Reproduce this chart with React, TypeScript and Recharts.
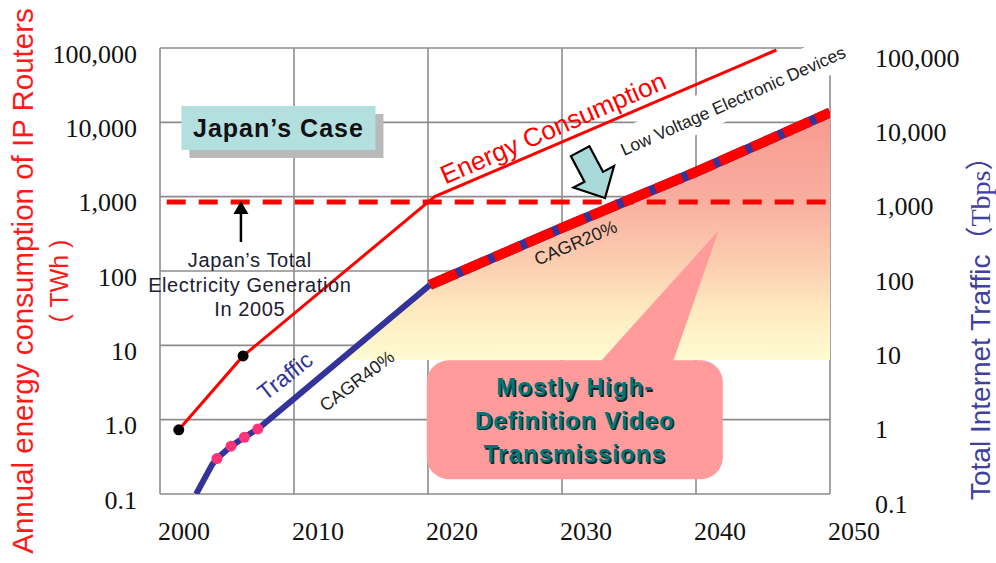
import React from "react";
import {
  Area,
  CartesianGrid,
  ComposedChart,
  Line,
  ReferenceDot,
  XAxis,
  YAxis,
} from "recharts";

const SANS = "Liberation Sans, Arial, sans-serif";
const SERIF = "Liberation Serif, Times New Roman, Noto Sans CJK JP, serif";

// axes
const xTicks = [2000, 2010, 2020, 2030, 2040, 2050];
const yTicks = [0.1, 1, 10, 100, 1000, 10000, 100000];
const leftTickLabels = ["0.1", "1.0", "10", "100", "1,000", "10,000", "100,000"];
const rightTickLabels = ["0.1", "1", "10", "100", "1,000", "10,000", "100,000"];

// energy consumption of IP routers (TWh)
const energyYears = [2001.4, 2006.2, 2020.5, 2046.0];
const energyValues = [0.73, 7.2, 1000, 94000];

// total internet traffic, history + CAGR40% (Tbps)
const trafficYears = [2002.7, 2003.9, 2004.25, 2005.3, 2006.3, 2007.3, 2020.15];
const trafficValues = [0.1, 0.25, 0.3, 0.44, 0.58, 0.75, 65];
const markedTraffic = [2, 3, 4, 5];

// CAGR20% forecast (Tbps)
const forecastYears = [2020.15, 2030, 2040, 2050];
const forecastValues = [65, 380, 2150, 13500];

// shaded region under traffic
const shadeYears = [2013.5, 2020.15, 2030, 2040, 2050];
const shadeValues = [6.35, 65, 380, 2150, 13500];
const shadeBase = 6.35;

// Japan's total electricity generation in 2005 (TWh)
const japanYears = [2000.5, 2049.8];
const japanValues = [850, 850];

const calloutLines = ["Mostly High-", "Definition Video", "Transmissions"];

const toRows = (xs: number[], vs: number[]) => xs.map((year, i) => ({ year, v: vs[i] }));
const energyData = toRows(energyYears, energyValues);
const trafficData = toRows(trafficYears, trafficValues);
const forecastData = toRows(forecastYears, forecastValues);
const shadeData = toRows(shadeYears, shadeValues);
const japanData = toRows(japanYears, japanValues);

function XTick(props: any) {
  const { x, y, payload } = props;
  return (
    <text x={x + 24} y={y + 37} textAnchor="middle" dominantBaseline="central" fontFamily={SERIF} fontSize={26} fill="#111">
      {payload.value}
    </text>
  );
}

function LeftTick(props: any) {
  const { x, y, payload } = props;
  const i = yTicks.indexOf(payload.value);
  return (
    <text x={x - 23} y={y + 6} textAnchor="end" dominantBaseline="central" fontFamily={SERIF} fontSize={26} fill="#111">
      {leftTickLabels[i]}
    </text>
  );
}

function RightTick(props: any) {
  const { x, y, payload } = props;
  const i = yTicks.indexOf(payload.value);
  return (
    <text x={x + 45} y={y + 10} textAnchor="start" dominantBaseline="central" fontFamily={SERIF} fontSize={26} fill="#111">
      {rightTickLabels[i]}
    </text>
  );
}

// place an svg snippet at a data coordinate
function at(year: number, value: number, draw: (cx: number, cy: number) => React.ReactNode) {
  return (
    <ReferenceDot
      key={`${year}-${value}`}
      x={year}
      y={value}
      yAxisId="left"
      r={0}
      ifOverflow="visible"
      shape={(p: any) => <g>{draw(p.cx, p.cy)}</g>}
    />
  );
}

function rotated(cx: number, cy: number, angle: number, text: string, size: number, fill: string) {
  return (
    <text
      x={cx}
      y={cy}
      transform={`rotate(${angle} ${cx} ${cy})`}
      textAnchor="middle"
      dominantBaseline="central"
      fontFamily={SANS}
      fontSize={size}
      fill={fill}
    >
      {text}
    </text>
  );
}

export default function App() {
  return (
    <div style={{ position: "absolute", left: 0, top: 0, width: 996, height: 563, background: "#fff" }}>
      <ComposedChart width={996} height={563} margin={{ top: 48, right: 0, bottom: 0, left: 0 }}>
        <defs>
          <linearGradient id="shade" x1="0" y1="0" x2="0" y2="1">
            <stop offset="0%" stopColor="#f7998f" />
            <stop offset="35%" stopColor="#f9ae9f" />
            <stop offset="60%" stopColor="#fccdb0" />
            <stop offset="80%" stopColor="#feeac0" />
            <stop offset="100%" stopColor="#fffbd2" />
          </linearGradient>
        </defs>
        <CartesianGrid yAxisId="left" stroke="#8c8c8c" strokeWidth={1.6} />
        <XAxis
          type="number"
          dataKey="year"
          domain={[2000, 2050]}
          ticks={xTicks}
          allowDataOverflow
          height={69}
          axisLine={false}
          tickLine={false}
          tickSize={0}
          tickMargin={0}
          tick={XTick}
        />
        <YAxis
          yAxisId="left"
          scale="log"
          domain={[0.1, 100000]}
          ticks={yTicks}
          allowDataOverflow
          width={160}
          axisLine={false}
          tickLine={false}
          tickSize={0}
          tickMargin={0}
          tick={LeftTick}
          label={(p: any) => {
            const vb = p.viewBox;
            const cy = vb.y + vb.height / 2 + 10;
            return (
              <g>
                <text x={33} y={cy} transform={`rotate(-90 33 ${cy})`} textAnchor="middle" fontFamily={SANS} fontSize={29.5} fill="#ff1a1a">
                  Annual energy consumption of IP Routers
                </text>
                <text x={68} y={cy} transform={`rotate(-90 68 ${cy})`} textAnchor="middle" fontFamily={SANS} fontSize={25} fill="#ff1a1a">
                  ( TWh )
                </text>
              </g>
            );
          }}
        />
        <YAxis
          yAxisId="right"
          orientation="right"
          scale="log"
          domain={[0.1, 100000]}
          ticks={yTicks}
          allowDataOverflow
          width={166}
          axisLine={false}
          tickLine={false}
          tickSize={0}
          tickMargin={0}
          tick={RightTick}
          label={(p: any) => {
            const vb = p.viewBox;
            const x = vb.x + 160;
            const y = vb.y + vb.height + 6;
            return (
              <text x={x} y={y} transform={`rotate(-90 ${x} ${y})`} textAnchor="start" fontFamily={SANS} fontSize={28} fill="#40409f">
                Total Internet Traffic
                <tspan fontFamily={SERIF}>（Tbps）</tspan>
              </text>
            );
          }}
        />

        <Area
          data={shadeData}
          dataKey="v"
          yAxisId="left"
          type="linear"
          baseValue={shadeBase}
          stroke="none"
          fill="url(#shade)"
          fillOpacity={1}
          isAnimationActive={false}
        />

        {at(2019.91, 6.3, (cx, cy) => (
          <g>
            <polygon points={`${cx + 173},${cy + 2} ${cx + 292},${cy - 130} ${cx + 246},${cy + 2}`} fill="#ff9b9b" />
            <rect x={cx} y={cy} width={296} height={119} rx={22} fill="#ff9b9b" />
            {calloutLines.map((t, i) => (
              <g key={t} textAnchor="middle" fontFamily={SANS} fontWeight="bold" fontSize={24} letterSpacing={1.1}>
                <text x={cx + 149.5} y={cy + 36.5 + i * 33.5} fill="#0b2b2b">
                  {t}
                </text>
                <text x={cx + 148} y={cy + 35 + i * 33.5} fill="#007777">
                  {t}
                </text>
              </g>
            ))}
          </g>
        ))}

        <Line
          data={japanData}
          dataKey="v"
          yAxisId="left"
          type="linear"
          stroke="#ff0000"
          strokeWidth={5}
          strokeDasharray="19 13"
          dot={false}
          isAnimationActive={false}
        />
        <Line
          data={energyData}
          dataKey="v"
          yAxisId="left"
          type="linear"
          stroke="#ff0000"
          strokeWidth={3}
          dot={(p: any) =>
            p.index < 2 ? <circle key={p.index} cx={p.cx} cy={p.cy} r={5.5} fill="#000" /> : <g key={p.index} />
          }
          isAnimationActive={false}
        />
        <Line
          data={trafficData}
          dataKey="v"
          yAxisId="left"
          type="linear"
          stroke="#333399"
          strokeWidth={6}
          dot={(p: any) =>
            markedTraffic.includes(p.index) ? (
              <circle key={p.index} cx={p.cx} cy={p.cy} r={5.5} fill="#ff3377" />
            ) : (
              <g key={p.index} />
            )
          }
          isAnimationActive={false}
        />
        <Line
          data={forecastData}
          dataKey="v"
          yAxisId="left"
          type="linear"
          stroke="#333399"
          strokeWidth={10}
          dot={false}
          isAnimationActive={false}
        />
        <Line
          data={forecastData}
          dataKey="v"
          yAxisId="left"
          type="linear"
          stroke="#ff0000"
          strokeWidth={10}
          strokeDasharray="29 6"
          dot={false}
          isAnimationActive={false}
        />

        {at(2008.84, 8400, (cx, cy) => (
          <g>
            <rect x={cx - 89} y={cy - 14} width={194} height={44} fill="#b9b9b9" />
            <rect x={cx - 97} y={cy - 22} width={194} height={44} fill="#b4dfdf" />
            <text x={cx} y={cy} textAnchor="middle" dominantBaseline="central" fontFamily={SANS} fontWeight="bold" fontSize={25} letterSpacing={1} fill="#111">
              Japan’s Case
            </text>
          </g>
        ))}

        {at(2006.04, 875, (cx, cy) => (
          <g>
            <line x1={cx} y1={cy + 41} x2={cx} y2={cy + 11} stroke="#000" strokeWidth={2.5} />
            <polygon points={`${cx},${cy} ${cx - 7.5},${cy + 13} ${cx + 7.5},${cy + 13}`} fill="#000" />
          </g>
        ))}

        {at(2006.7, 113, (cx, cy) => (
          <g fontFamily={SANS} fontSize={20} letterSpacing={0.6} fill="#202030" textAnchor="middle">
            <text x={cx} y={cy}>Japan’s Total</text>
            <text x={cx} y={cy + 24.5}>Electricity Generation</text>
            <text x={cx} y={cy + 49}>In 2005</text>
          </g>
        ))}

        {at(2029.33, 8400, (cx, cy) => rotated(cx, cy, -23.5, "Energy Consumption", 26, "#ff0000"))}
        {at(2042.76, 19400, (cx, cy) => (
          <g>
            <rect x={cx - 135} y={cy - 20} width={262} height={36} fill="#fff" transform={`rotate(-24 ${cx} ${cy})`} />
            {rotated(cx, cy, -24, "Low Voltage Electronic Devices", 17.5, "#222")}
          </g>
        ))}
        {at(2009.33, 3.87, (cx, cy) => rotated(cx, cy, -38, "Traffic", 23, "#333399"))}
        {at(2014.7, 3.31, (cx, cy) => rotated(cx, cy, -37, "CAGR40%", 18, "#222"))}
        {at(2031.02, 238, (cx, cy) => rotated(cx, cy, -23, "CAGR20%", 18, "#222"))}

        {at(2033.21, 960, (cx, cy) => (
          <polygon
            transform={`translate(${cx} ${cy}) rotate(-28)`}
            points="0,0 -23,-24 -10.5,-24 -10.5,-53 10.5,-53 10.5,-24 23,-24"
            fill="#a9d9d9"
            stroke="#000"
            strokeWidth={2.2}
            strokeLinejoin="miter"
          />
        ))}
      </ComposedChart>
    </div>
  );
}
